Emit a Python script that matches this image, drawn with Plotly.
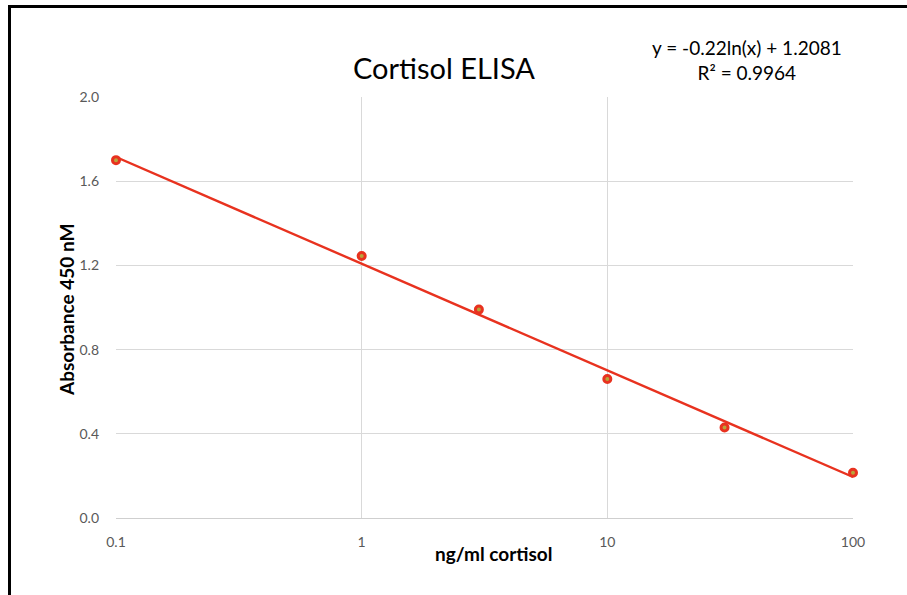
import numpy as np
import plotly.graph_objects as go

conc = [0.1, 1, 3, 10, 30, 100]
absorbance = [1.70, 1.245, 0.99, 0.66, 0.43, 0.215]
fit_slope = -0.22
fit_intercept = 1.2081
fit_r2 = 0.9964
y_ticks = [0.0, 0.4, 0.8, 1.2, 1.6, 2.0]
x_ticks = [0.1, 1, 10, 100]
x_ticklabels = ["0.1", "1", "10", "100"]

fit_x = np.array([min(conc), max(conc)])
fit_y = fit_slope * np.log(fit_x) + fit_intercept

RED = "#E8321F"
FONT = "Lato, 'Open Sans', sans-serif"

L, T, PW, PH = 116, 97, 737, 421


def px(xp):
    return (xp - L) / PW


def py(yp):
    return (T + PH - yp) / PH


fig = go.Figure()
fig.add_trace(go.Scatter(x=fit_x, y=fit_y, mode="lines", cliponaxis=False,
                         line=dict(color=RED, width=2.4), hoverinfo="skip", showlegend=False))
fig.add_trace(go.Scatter(x=conc, y=absorbance, mode="markers", cliponaxis=False,
                         marker=dict(size=7, color="#B9A43A", line=dict(color=RED, width=3)),
                         showlegend=False))

fig.update_layout(
    width=907, height=595,
    margin=dict(l=L, r=907 - L - PW, t=T, b=595 - T - PH),
    paper_bgcolor="white", plot_bgcolor="white",
    font=dict(family=FONT, color="#595959", size=14),
    xaxis=dict(type="log", range=[-1, 2], tickvals=x_ticks, ticktext=x_ticklabels,
               showgrid=True, gridcolor="#D9D9D9", gridwidth=1, zeroline=False,
               showline=True, linecolor="#CFCFCF", linewidth=1, ticks="",
               ticklabelstandoff=11,
               tickfont=dict(size=14, color="#595959")),
    yaxis=dict(range=[0, 2], tickvals=y_ticks, tickformat=".1f",
               showgrid=True, gridcolor="#D9D9D9", gridwidth=1, zeroline=False,
               showline=False, ticks="", ticklabelstandoff=16,
               tickfont=dict(size=14, color="#595959")),
    annotations=[
        dict(text="Cortisol ELISA", xref="paper", yref="paper",
             x=px(444), y=py(67), xanchor="center", yanchor="middle",
             showarrow=False, font=dict(size=29, color="#000000", family=FONT)),
        dict(text=f"y = {fit_slope}ln(x) + {fit_intercept}<br>R² = {fit_r2}",
             xref="paper", yref="paper",
             x=px(747), y=py(60), xanchor="center", yanchor="middle",
             showarrow=False, align="center",
             font=dict(size=19, color="#000000", family=FONT)),
        dict(text="<b>ng/ml cortisol</b>", xref="paper", yref="paper",
             x=px(494), y=py(553), xanchor="center", yanchor="middle",
             showarrow=False, font=dict(size=19, color="#000000", family=FONT)),
        dict(text="<b>Absorbance 450 nM</b>", xref="paper", yref="paper",
             x=px(66), y=py(310), xanchor="center", yanchor="middle", textangle=-90,
             showarrow=False, font=dict(size=19, color="#000000", family=FONT)),
    ],
    shapes=[
        dict(type="line", xref="paper", yref="paper",
             x0=px(9.5), y0=py(620), x1=px(9.5), y1=py(5),
             line=dict(color="black", width=3), layer="above"),
        dict(type="line", xref="paper", yref="paper",
             x0=px(8), y0=py(6.5), x1=px(920), y1=py(6.5),
             line=dict(color="black", width=3), layer="above"),
    ],
)

fig.write_html("out.html", config={"displayModeBar": False},
               post_script="document.body.style.margin='0';"
                           "document.body.style.overflow='hidden';"
                           "document.documentElement.style.overflow='hidden';")
